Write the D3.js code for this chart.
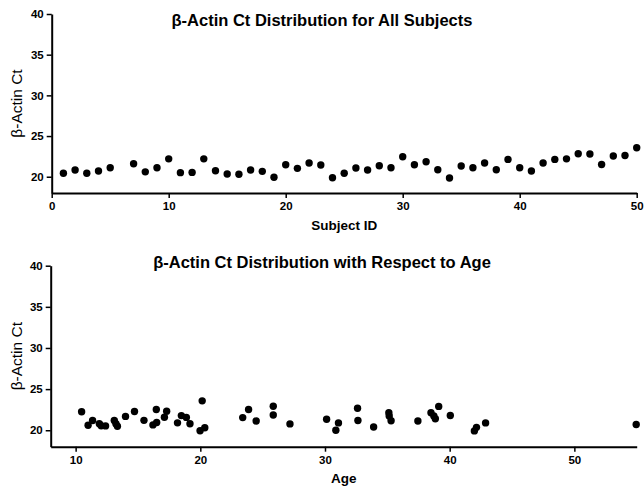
<!DOCTYPE html>
<html>
<head>
<meta charset="utf-8">
<script src="https://cdn.jsdelivr.net/npm/d3@7"></script>
<style>
  body { margin: 0; background: #fff; }
  svg { display: block; font-family: "Liberation Sans", Arial, sans-serif; }
  .tick text { font-size: 11.5px; font-weight: bold; }
  .domain { stroke-width: 2; }
  .tick line { stroke-width: 1.5; }
</style>
</head>
<body>
<svg id="chart"></svg>
<script>
// subject IDs and their beta-actin Ct (subject 6 has no value)
const subjectIds = [1, 2, 3, 4, 5, 7, 8, 9, 10, 11, 12, 13, 14, 15, 16, 17, 18, 19, 20,
  21, 22, 23, 24, 25, 26, 27, 28, 29, 30, 31, 32, 33, 34, 35, 36, 37, 38, 39, 40,
  41, 42, 43, 44, 45, 46, 47, 48, 49, 50];
const subjectCt = [20.42, 20.82, 20.42, 20.70, 21.10, 21.60, 20.60, 21.10, 22.20, 20.50,
  20.53, 22.20, 20.74, 20.33, 20.30, 20.82, 20.66, 19.93, 21.47, 21.03, 21.68, 21.44,
  19.88, 20.42, 21.07, 20.82, 21.35, 21.10, 22.46, 21.47, 21.84, 20.86, 19.84, 21.31,
  21.10, 21.68, 20.86, 22.13, 21.10, 20.70, 21.68, 22.13, 22.20, 22.83, 22.80, 21.50,
  22.54, 22.60, 23.56];

// age of each subject and Ct
const ages = [10.48, 11.0, 11.36, 11.9, 12.05, 12.4, 13.1, 13.23, 13.35, 14.0, 14.72,
  15.48, 16.2, 16.5, 16.47, 17.12, 17.3, 18.17, 18.48, 18.88, 19.17, 19.98, 20.15, 20.36,
  23.4, 23.87, 24.48, 25.85, 25.85, 27.19, 30.13, 30.87, 31.08, 32.61, 32.64, 33.9,
  35.12, 35.15, 35.3, 37.45, 38.5, 38.73, 38.85, 39.12, 40.05, 41.98, 42.15, 42.88, 54.96];
const ageCt = [22.25, 20.61, 21.18, 20.8, 20.55, 20.53, 21.18, 20.8, 20.49, 21.68, 22.27,
  21.2, 20.65, 20.95, 22.53, 21.58, 22.31, 20.9, 21.78, 21.56, 20.79, 19.94, 23.57, 20.3,
  21.54, 22.52, 21.13, 22.92, 21.86, 20.77, 21.34, 20.0, 20.89, 22.68, 21.18, 20.4,
  22.13, 21.74, 21.16, 21.12, 22.13, 21.74, 21.4, 22.9, 21.8, 19.92, 20.35, 20.89, 20.69];

const ctTicks = [20, 25, 30, 35, 40];
const subjectTicks = [0, 10, 20, 30, 40, 50];
const ageTicks = [10, 20, 30, 40, 50];

const width = 644;
const height = 488;

const svg = d3.select('#chart')
    .attr('width', width)
    .attr('height', height);

function drawPanel(opts) {
    const x = d3.scaleLinear().domain(opts.xDomain).range([opts.left, opts.right]);
    const y = d3.scaleLinear().domain([18, 40]).range([opts.bottom, opts.top]);

    const g = svg.append('g');

    g.append('g')
        .attr('transform', `translate(0, ${opts.bottom})`)
        .call(d3.axisBottom(x).tickValues(opts.xTicks).tickSize(5).tickSizeOuter(0).tickPadding(4));

    g.append('g')
        .attr('transform', `translate(${opts.left}, 0)`)
        .call(d3.axisLeft(y).tickValues(ctTicks).tickSize(5).tickSizeOuter(0).tickPadding(3));

    g.selectAll('.dot')
        .data(opts.xs)
        .join('circle')
        .attr('class', 'dot')
        .attr('cx', d => x(d))
        .attr('cy', (d, i) => y(opts.ys[i]))
        .attr('r', 3.7)
        .attr('fill', 'black');

    g.append('text')
        .attr('x', 322)
        .attr('y', opts.titleY)
        .attr('text-anchor', 'middle')
        .style('font-size', '16.5px')
        .style('font-weight', 'bold')
        .text(opts.title);

    g.append('text')
        .attr('x', (opts.left + opts.right) / 2)
        .attr('y', opts.xLabelY)
        .attr('text-anchor', 'middle')
        .style('font-size', '13.5px')
        .style('font-weight', 'bold')
        .text(opts.xLabel);

    g.append('text')
        .attr('transform', `translate(22, ${(opts.top + opts.bottom) / 2}) rotate(-90)`)
        .attr('text-anchor', 'middle')
        .style('font-size', '15.5px')
        .text('β-Actin Ct');
}

drawPanel({
    xDomain: [0, 50], xTicks: subjectTicks, xs: subjectIds, ys: subjectCt,
    left: 51.7, right: 636.7, top: 14, bottom: 193,
    title: 'β-Actin Ct Distribution for All Subjects', titleY: 26,
    xLabel: 'Subject ID', xLabelY: 230
});

drawPanel({
    xDomain: [8, 55], xTicks: ageTicks, xs: ages, ys: ageCt,
    left: 50.7, right: 636.7, top: 265.7, bottom: 446.7,
    title: 'β-Actin Ct Distribution with Respect to Age', titleY: 268,
    xLabel: 'Age', xLabelY: 483
});
</script>
</body>
</html>
